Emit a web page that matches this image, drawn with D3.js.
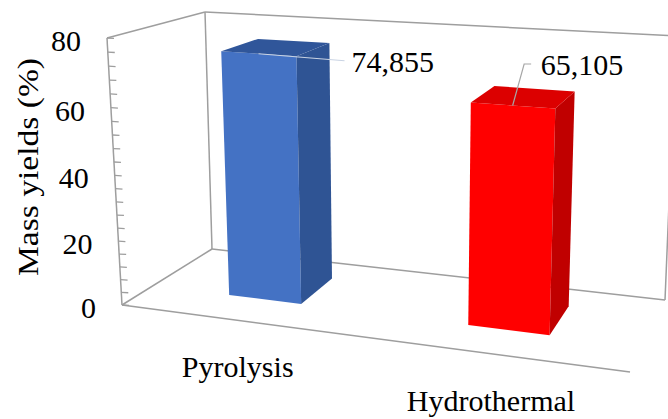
<!DOCTYPE html>
<html>
<head>
<meta charset="utf-8">
<script src="https://cdn.jsdelivr.net/npm/d3@7"></script>
<style>
  html, body { margin: 0; padding: 0; background: #fff; }
  svg { display: block; }
  text { font-family: "Liberation Serif", "Times New Roman", "DejaVu Serif", serif; fill: #000; }
</style>
</head>
<body>
<svg id="chart" width="668" height="419"></svg>
<script>
// ---- data ----
const categories = ["Pyrolysis", "Hydrothermal"];
const yields = [74.855, 65.105];
const yTicks = [0, 20, 40, 60, 80];
const yMinorStep = 4;

// ---- styling ----
const faceColors = [
  { front: "#4472c4", side: "#2f5494", top: "#30569a" },
  { front: "#ff0000", side: "#c00000", top: "#dc0000" }
];
const frameColor = "#9e9e9e";
const leaderColors = ["#c9d3e3", "#a6a6a6"];

// ---- 3D box corners on screen (u: width, v: height, w: depth) ----
const corner = {
  "000": [122, 305], "010": [107, 38],
  "001": [212, 249], "011": [205, 12],
  "100": [630, 372], "110": [642, 72],
  "101": [665, 300], "111": [676, 36]
};
// perspective foreshortening along width and height
const qU = 1.13, rV = 1.06;
const warp = (t, k) => t / (t + k * (1 - t));
const lerp = (a, b, t) => [a[0] + (b[0] - a[0]) * t, a[1] + (b[1] - a[1]) * t];

function project(u, v, w) {
  const s = warp(u, qU), h = 1 - warp(1 - v, 1 / rV);
  const c = k => corner[k];
  const b0 = lerp(lerp(c("000"), c("100"), s), lerp(c("001"), c("101"), s), w);
  const t0 = lerp(lerp(c("010"), c("110"), s), lerp(c("011"), c("111"), s), w);
  return lerp(b0, t0, h);
}

// ---- scales ----
const x = d3.scaleBand().domain(categories).range([0, 1])
  .paddingInner(0.686).paddingOuter(0.343);
const y = d3.scaleLinear().domain([0, 80]).range([0, 1]);
const wFront = 0.35, wBack = 0.77;

const svg = d3.select("#chart");
const line = d3.line();
const poly = pts => line(pts) + "Z";

// ---- walls and floor edges ----
const frame = svg.append("g").attr("fill", "none").attr("stroke", frameColor)
  .attr("stroke-width", 1.5);
const edges = [
  [[0, 0, 0], [0, 1, 0]], [[0, 1, 0], [0, 1, 1]], [[0, 1, 1], [0, 0, 1]], [[0, 0, 1], [0, 0, 0]],
  [[0, 1, 1], [1, 1, 1]], [[0, 0, 1], [1, 0, 1]], [[1, 0, 1], [1, 1, 1]],
  [[0, 0, 0], [1, 0, 0]]
];
frame.selectAll("path.edge").data(edges).join("path").attr("class", "edge")
  .attr("d", e => line(e.map(p => project(...p))));

// value-axis tick marks along the front-left edge
const tickVals = d3.range(0, 80 + 0.001, yMinorStep);
frame.selectAll("path.tick").data(tickVals).join("path").attr("class", "tick")
  .attr("stroke-width", 1.3)
  .attr("d", t => {
    const p = project(0, y(t), 0);
    return line([p, [p[0] + 7, p[1] + 0.4]]);
  });

// value-axis labels
svg.append("g").selectAll("text").data(yTicks).join("text")
  .attr("font-family", "Liberation Serif")
  .attr("text-anchor", "end")
  .attr("font-size", 30)
  .attr("x", t => project(0, y(t), 0)[0] - 26)
  .attr("y", t => project(0, y(t), 0)[1] + 13)
  .text(t => t);

// axis title
svg.append("text")
  .attr("font-family", "Liberation Serif")
  .attr("transform", "translate(38,167) rotate(-90)")
  .attr("text-anchor", "middle")
  .attr("font-size", 30)
  .attr("textLength", 218)
  .attr("lengthAdjust", "spacingAndGlyphs")
  .text("Mass yields (%)");

// ---- bars ----
const bars = categories.map((c, i) => ({
  cat: c, value: yields[i], colors: faceColors[i],
  u0: x(c), u1: x(c) + x.bandwidth(), v: y(yields[i])
}));
const barG = svg.append("g").selectAll("g").data(bars).join("g");
barG.append("path").attr("fill", d => d.colors.front)
  .attr("d", d => poly([[d.u0, 0, wFront], [d.u1, 0, wFront], [d.u1, d.v, wFront], [d.u0, d.v, wFront]].map(p => project(...p))));
barG.append("path").attr("fill", d => d.colors.side)
  .attr("d", d => poly([[d.u1, 0, wFront], [d.u1, 0, wBack], [d.u1, d.v, wBack], [d.u1, d.v, wFront]].map(p => project(...p))));
barG.append("path").attr("fill", d => d.colors.top)
  .attr("d", d => poly([[d.u0, d.v, wFront], [d.u1, d.v, wFront], [d.u1, d.v, wBack], [d.u0, d.v, wBack]].map(p => project(...p))));

// ---- category labels ----
svg.append("g").selectAll("text").data(categories).join("text")
  .attr("font-family", "Liberation Serif")
  .attr("text-anchor", "middle")
  .attr("font-size", 30)
  .attr("x", c => project(x(c) + x.bandwidth() / 2, 0, 0)[0])
  .attr("y", c => project(x(c) + x.bandwidth() / 2, 0, 0)[1] + 57)
  .text(c => c);

// ---- data labels with leader lines ----
const fmt = d3.formatLocale({ decimal: ",", thousands: ".", grouping: [3], currency: ["", ""] }).format(".3f");
const labelLayout = [
  { leader: [[86, 7]], text: [93, 18] },
  { leader: [[11.5, -41.5], [18.5, -41.5]], text: [28, -30.5] }
];
bars.forEach((d, i) => {
  const a = project((d.u0 + d.u1) / 2, d.v, wFront);
  const L = labelLayout[i];
  svg.append("path").attr("fill", "none").attr("stroke", leaderColors[i]).attr("stroke-width", 1.2)
    .attr("d", line([a, ...L.leader.map(o => [a[0] + o[0], a[1] + o[1]])]));
  svg.append("text").attr("font-family", "Liberation Serif").attr("font-size", 30)
    .attr("x", a[0] + L.text[0]).attr("y", a[1] + L.text[1])
    .text(fmt(d.value));
});
</script>
</body>
</html>
